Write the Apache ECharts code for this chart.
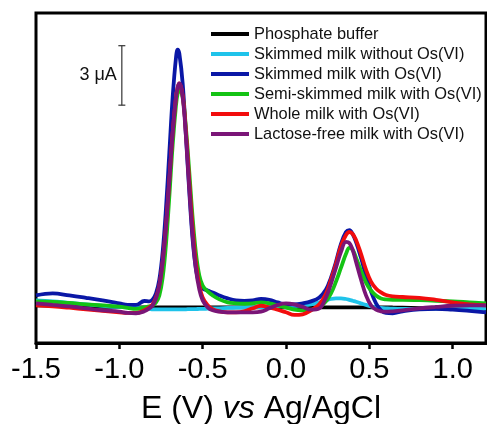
<!DOCTYPE html>
<html><head><meta charset="utf-8">
<script src="https://cdn.jsdelivr.net/npm/echarts@6/dist/echarts.min.js"></script>
<style>html,body{margin:0;padding:0;background:#fff}#c{width:487px;height:424px}</style>
</head><body><div id="c"></div>
<script>
var seriesNames = ['Phosphate buffer','Skimmed milk without Os(VI)','Skimmed milk with Os(VI)','Semi-skimmed milk with Os(VI)','Whole milk with Os(VI)','Lactose-free milk with Os(VI)'];
var seriesColors = ['#000000','#1fc3ea','#0a17a6','#14c314','#f20d0d','#7a1577'];
var xTicks = [-1.5,-1.0,-0.5,0.0,0.5,1.0];
var potential = [-1.5,-1.4,-1.3,-1.2,-1.1,-1.0,-0.95,-0.9,-0.85,-0.82,-0.8,-0.78,-0.76,-0.74,-0.72,-0.70,-0.68,-0.66,-0.65,-0.64,-0.62,-0.60,-0.58,-0.56,-0.54,-0.52,-0.50,-0.47,-0.44,-0.40,-0.35,-0.30,-0.25,-0.20,-0.15,-0.10,-0.05,0.0,0.05,0.10,0.15,0.20,0.24,0.27,0.30,0.33,0.36,0.38,0.40,0.42,0.45,0.48,0.51,0.54,0.57,0.60,0.64,0.70,0.80,0.90,1.0,1.1,1.2];
var buffer = [0.1,0.08,0.06,0.05,0.03,0.02,0.01,0,0,0,0,0,0,0,0,0,0,0,0,0,0,0,0,0,0,0,0,0,0,0,0,0,0,0,0,0,0,0,0,0,0,0,0,0,0,0,0,0,0,0,0,0,0,0,0,0,-0.01,-0.02,-0.04,-0.05,-0.05,-0.05,-0.05];
var skimNoOs = [0.35,0.3,0.22,0.15,0.08,0.02,0.0,-0.03,-0.06,-0.08,-0.1,-0.1,-0.1,-0.1,-0.1,-0.1,-0.1,-0.1,-0.1,-0.1,-0.1,-0.1,-0.09,-0.09,-0.09,-0.08,-0.08,-0.07,-0.06,-0.05,-0.03,-0.02,-0.01,0.0,0.01,0.02,0.04,0.05,0.07,0.1,0.15,0.25,0.35,0.42,0.45,0.45,0.42,0.38,0.33,0.28,0.2,0.12,0.05,0.0,-0.03,-0.05,-0.07,-0.08,-0.08,-0.07,-0.06,-0.06,-0.06];
var skimOs = [0.6,0.7,0.6,0.48,0.35,0.2,0.12,0.12,0.32,0.3,0.4,0.7,1.4,2.8,5.0,7.8,10.6,12.6,13.0,12.8,11.3,8.6,5.8,3.4,1.9,1.2,0.95,0.85,0.75,0.6,0.45,0.35,0.33,0.35,0.42,0.38,0.25,0.15,0.15,0.2,0.3,0.5,0.9,1.5,2.3,3.2,3.8,3.9,3.7,3.3,2.5,1.6,0.8,0.2,-0.15,-0.28,-0.3,-0.2,-0.1,-0.08,-0.12,-0.18,-0.25];
var semiOs = [0.3,0.28,0.22,0.15,0.1,0.03,-0.03,-0.08,0.0,0.05,0.1,0.25,0.6,1.5,3.2,5.6,8.2,10.2,10.8,11.0,10.6,9.0,6.8,4.5,2.7,1.6,1.1,0.8,0.6,0.4,0.25,0.2,0.18,0.2,0.25,0.2,0.1,0.0,-0.12,-0.15,-0.12,0.0,0.3,0.7,1.3,2.0,2.7,3.0,2.9,2.5,1.85,1.25,0.85,0.6,0.45,0.4,0.38,0.38,0.36,0.33,0.3,0.25,0.2];
var wholeOs = [0.1,0.05,-0.02,-0.1,-0.18,-0.25,-0.28,-0.28,-0.15,0.0,0.15,0.5,1.1,2.3,4.1,6.4,8.8,10.6,11.1,11.3,10.7,8.8,6.3,4.0,2.2,1.1,0.5,0.1,-0.1,-0.2,-0.25,-0.25,-0.2,-0.05,0.08,0.0,-0.12,-0.25,-0.38,-0.35,-0.15,0.15,0.7,1.4,2.2,3.1,3.65,3.8,3.7,3.4,2.7,1.9,1.3,0.95,0.75,0.62,0.55,0.52,0.48,0.38,0.25,0.15,0.1];
var lactoseOs = [0.2,0.12,0.05,-0.05,-0.15,-0.22,-0.28,-0.3,-0.2,-0.05,0.1,0.45,1.1,2.3,4.1,6.4,8.8,10.6,11.1,11.3,10.6,8.6,6.0,3.6,1.9,0.9,0.35,0.0,-0.15,-0.22,-0.25,-0.25,-0.25,-0.25,-0.22,-0.05,0.12,0.2,0.15,0.02,-0.12,-0.05,0.5,1.2,2.0,2.8,3.3,3.25,2.9,2.3,1.4,0.6,0.1,-0.12,-0.2,-0.22,-0.2,-0.15,-0.05,0.02,0.08,0.1,0.1];
var scaleBar = [[-0.985, 10.2, 13.2]];
var scaleBarLabel = '3 μA';

var currents = [buffer, skimNoOs, skimOs, semiOs, wholeOs, lactoseOs];
var series = currents.map(function (arr, i) {
  return {
    name: seriesNames[i], type: 'line', smooth: 0.4, showSymbol: false, symbol: 'none',
    data: potential.map(function (e, k) { return [e, arr[k]]; }),
    lineStyle: { color: seriesColors[i], width: 3.8 },
    itemStyle: { color: seriesColors[i] },
    z: 2 + i
  };
});
series.push({
  type: 'custom', silent: true, z: 10,
  data: scaleBar,
  renderItem: function (params, api) {
    var top = api.coord([api.value(0), api.value(2)]);
    var bot = api.coord([api.value(0), api.value(1)]);
    var st = { stroke: '#333', lineWidth: 1.2 };
    return { type: 'group', children: [
      { type: 'line', shape: { x1: top[0], y1: top[1], x2: bot[0], y2: bot[1] }, style: st },
      { type: 'line', shape: { x1: top[0] - 3.5, y1: top[1], x2: top[0] + 3.5, y2: top[1] }, style: st },
      { type: 'line', shape: { x1: bot[0] - 3.5, y1: bot[1], x2: bot[0] + 3.5, y2: bot[1] }, style: st },
      { type: 'text', style: { text: scaleBarLabel, x: top[0] - 5, y: (top[1] + bot[1]) / 2, align: 'right', verticalAlign: 'middle', font: '18px "Liberation Sans", Arial, sans-serif', fill: '#111' } }
    ]};
  }
});

var chart = echarts.init(document.getElementById('c'), null, { renderer: 'canvas' });
chart.setOption({
  animation: false,
  backgroundColor: '#fff',
  grid: { left: 36, right: 1, top: 13, bottom: 81, containLabel: false, outerBoundsMode: 'none', show: true, borderColor: '#000', borderWidth: 3, backgroundColor: 'transparent' },
  legend: {
    orient: 'vertical', left: 211, top: 26, padding: 0, itemGap: 4,
    itemWidth: 38, itemHeight: 4, icon: 'rect',
    data: seriesNames,
    textStyle: { fontSize: 16.4, lineHeight: 16, color: '#111', fontFamily: '"Liberation Sans", Arial, sans-serif' }
  },
  xAxis: {
    type: 'value', min: -1.5, max: 1.2, interval: 0.5,
    axisLine: { show: true, onZero: false, lineStyle: { color: '#000', width: 3 } },
    axisTick: { show: true, inside: false, length: 6, lineStyle: { color: '#000', width: 2.5 }, customValues: xTicks },
    axisLabel: { customValues: xTicks, fontSize: 29, color: '#000', margin: 12, fontFamily: '"Liberation Sans", Arial, sans-serif',
      formatter: function (v) { return v.toFixed(1); } },
    splitLine: { show: false },
    name: '{n|E (V) }{i|vs}{n| Ag/AgCl}', nameLocation: 'middle', nameGap: 50,
    nameTextStyle: { rich: {
      n: { fontSize: 32, color: '#000', fontFamily: '"Liberation Sans", Arial, sans-serif' },
      i: { fontSize: 32, color: '#000', fontStyle: 'italic', fontFamily: '"Liberation Sans", Arial, sans-serif' } } }
  },
  yAxis: {
    type: 'value', min: -1.8, max: 14.85,
    axisLine: { show: false }, axisTick: { show: false }, axisLabel: { show: false }, splitLine: { show: false }
  },
  series: series
});
</script></body></html>
